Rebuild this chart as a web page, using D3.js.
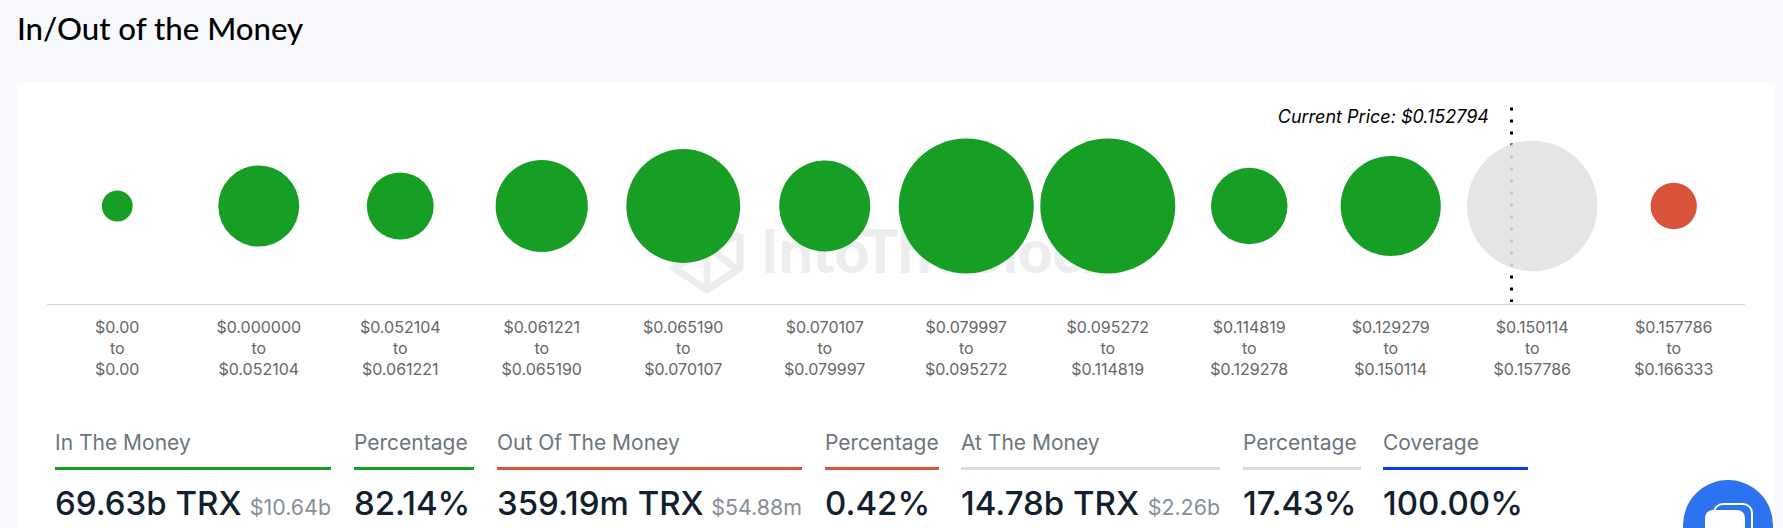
<!DOCTYPE html>
<html><head><meta charset="utf-8">
<script src="https://cdn.jsdelivr.net/npm/d3@7/dist/d3.min.js"></script>
<style>html,body{margin:0;padding:0;background:#f8f9fd;overflow:hidden}svg{display:block}</style>
</head><body><div id="chart"></div>
<script>
const rangeFrom=["$0.00","$0.000000","$0.052104","$0.061221","$0.065190","$0.070107","$0.079997","$0.095272","$0.114819","$0.129279","$0.150114","$0.157786"];
const rangeTo=["$0.00","$0.052104","$0.061221","$0.065190","$0.070107","$0.079997","$0.095272","$0.114819","$0.129278","$0.150114","$0.157786","$0.166333"];
const volumeB=[0,3.75,1.94,5.63,10.28,5.41,16.19,16.19,3.12,7.17,14.78,0.359];
const moneyState=["in","in","in","in","in","in","in","in","in","in","at","out"];
const stateColor={in:"#179e25",at:"#e1e1e1",out:"#d9533a"};
const statLabels=["In The Money","Percentage","Out Of The Money","Percentage","At The Money","Percentage","Coverage"];
const statValues=["69.63b TRX","82.14%","359.19m TRX","0.42%","14.78b TRX","17.43%","100.00%"];
const statSubs=["$10.64b","","$54.88m","","$2.26b","",""];
const statColors=["#179e25","#179e25","#d9533a","#d9533a","#dcdcdc","#dcdcdc","#0a3cf0"];
const statLeft=[55,354,497,825,961,1243,1383];
const statRight=[331,474,802,939,1220,1361,1528];
const currentPrice=0.152794;
const currentPriceLabel="Current Price: $0.152794";

const W=1783,H=528,FONT="Inter, 'Noto Sans', sans-serif";
const svg=d3.select("#chart").append("svg").attr("width",W).attr("height",H);
svg.append("rect").attr("width",W).attr("height",H).attr("fill","#f8f9fd");
svg.append("rect").attr("x",17).attr("y",83).attr("width",1758).attr("height",H-83).attr("fill","#fff");
svg.append("text").attr("x",17).attr("y",40).attr("font-family","Lato, sans-serif").attr("font-size",31.2).attr("fill","#000").attr("font-weight",500).text("In/Out of the Money");

// watermark
const wm=svg.append("g").attr("fill","none").attr("stroke","#ededed").attr("stroke-width",7).attr("stroke-linejoin","round");
wm.append("path").attr("d","M740 234V268L707 290L674 268L740 234M707 246V290M707 246L735 268");
svg.append("text").attr("x",761).attr("y",273).attr("font-family","Lato, sans-serif").attr("font-weight",900).attr("font-size",60).attr("fill","#ededed").text("IntoTheBlock");

const x=d3.scaleBand().domain(d3.range(volumeB.length)).range([46.5,1744.5]);
const r=d3.scaleSqrt().domain([0,d3.max(volumeB)]).range([15.4,67.5]);
const cy=206;

// axis line & labels
svg.append("line").attr("x1",47).attr("x2",1745).attr("y1",304.5).attr("y2",304.5).attr("stroke","#ccd6eb").attr("stroke-width",1);
const lbl=svg.append("g").attr("font-family",FONT).attr("font-size",16).attr("fill","#666").attr("text-anchor","middle");
rangeFrom.forEach((f,i)=>{
  const cx=x(i)+x.bandwidth()/2;
  [[f,332.5],["to",353.5],[rangeTo[i],374.5]].forEach(([t,y])=>lbl.append("text").attr("x",cx).attr("y",y).text(t));
});

// current price line: linear position inside its bucket's band
const priceX=d3.scaleLinear().domain([0.150114,0.157786]).range([x(10),x(10)+x.bandwidth()]);
const px=Math.round(priceX(currentPrice));
svg.append("line").attr("x1",px+0.5).attr("x2",px+0.5).attr("y1",107.5).attr("y2",302).attr("stroke","#000").attr("stroke-width",3).attr("stroke-dasharray","3 9");
svg.append("text").attr("x",1489).attr("y",123).attr("text-anchor","end").attr("font-family",FONT).attr("font-style","italic").attr("font-size",18).attr("fill","#000").text(currentPriceLabel);

// bubbles
svg.append("g").selectAll("circle").data(volumeB).join("circle")
  .attr("cx",(d,i)=>x(i)+x.bandwidth()/2).attr("cy",cy).attr("r",d=>r(d))
  .attr("fill",(d,i)=>stateColor[moneyState[i]]).attr("fill-opacity",(d,i)=>moneyState[i]==="at"?0.88:1);

// stats
statLabels.forEach((t,i)=>{
  const g=svg.append("g").attr("font-family",FONT);
  g.append("text").attr("x",statLeft[i]).attr("y",450).attr("font-size",21).attr("fill","#6c757d").text(t);
  g.append("rect").attr("x",statLeft[i]).attr("y",467).attr("width",statRight[i]-statLeft[i]).attr("height",3).attr("fill",statColors[i]);
  g.append("text").attr("x",statLeft[i]).attr("y",514.5).attr("font-size",33).attr("font-weight",500).attr("fill","#12202e").text(statValues[i]);
  if(statSubs[i]) g.append("text").attr("x",statRight[i]).attr("y",514.5).attr("text-anchor","end").attr("font-size",21.4).attr("fill","#868e96").text(statSubs[i]);
});

// chat button
svg.append("circle").attr("cx",1728).attr("cy",525).attr("r",45).attr("fill","#2d72ee");
svg.append("rect").attr("x",1714).attr("y",504).attr("width",38).attr("height",40).attr("rx",9).attr("fill","none").attr("stroke","#fff").attr("stroke-width",2);
svg.append("rect").attr("x",1705).attr("y",510).attr("width",40).attr("height",40).attr("rx",8).attr("fill","#fff");
</script></body></html>
